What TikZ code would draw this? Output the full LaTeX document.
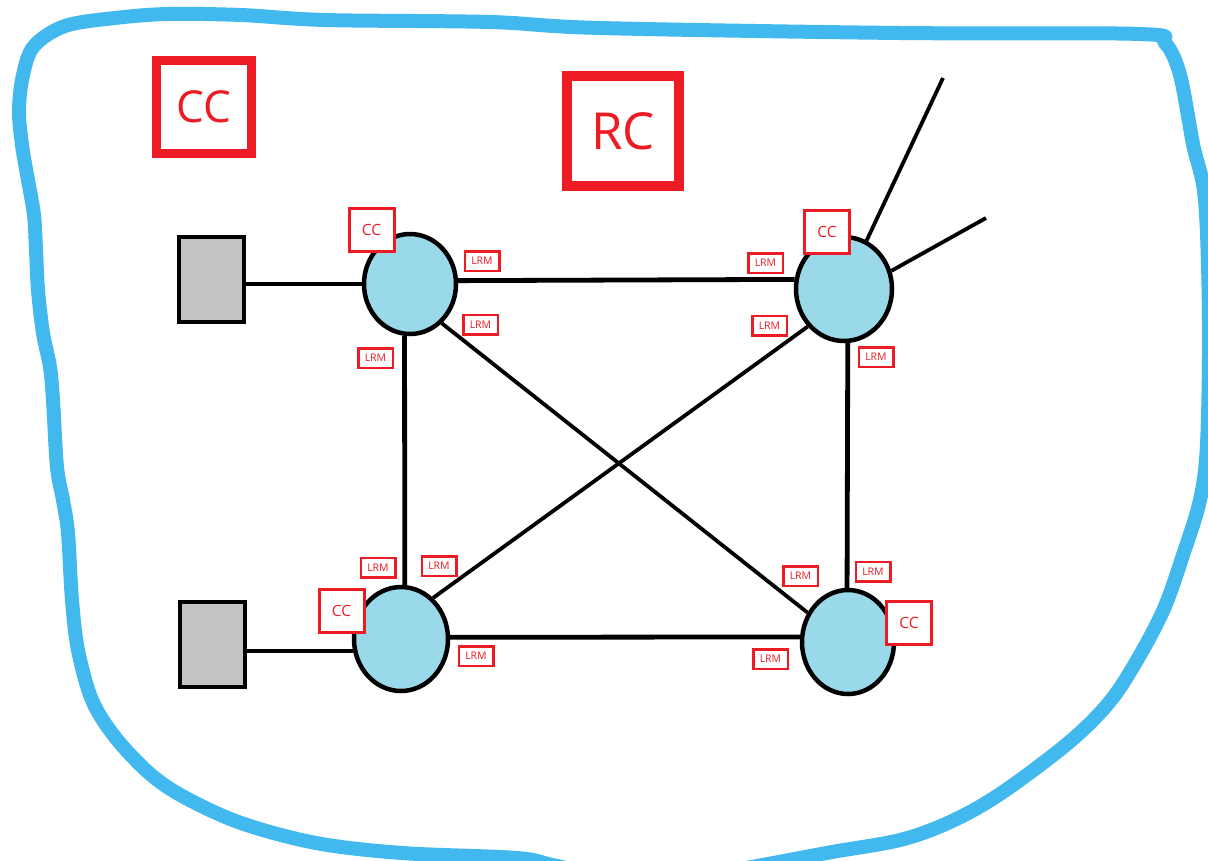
\documentclass[tikz,border=0pt]{standalone}
\usepackage{fontspec}
\setmainfont{Open Sans}
\usetikzlibrary{shapes.geometric}
\definecolor{pred}{RGB}{237,28,36}
\definecolor{pblue}{RGB}{66,185,238}
\definecolor{pcyan}{RGB}{153,217,234}
\definecolor{pgray}{RGB}{195,195,195}
\begin{document}
\begin{tikzpicture}[x=1pt,y=-1pt,
 router/.style={ellipse,draw=black,line width=4.5pt,fill=pcyan,inner sep=0pt},
 host/.style={rectangle,draw=black,line width=4pt,fill=pgray,minimum width=65pt,minimum height=85pt,inner sep=0pt},
 link/.style={line width=4.8pt},
 thinlink/.style={line width=3.8pt},
 lrm/.style={draw=pred,line width=2.5pt,fill=white,text=pred,font=\fontsize{10.5}{11}\selectfont,minimum width=34.5pt,minimum height=19.5pt,inner sep=0pt},
 ccs/.style={draw=pred,line width=3pt,fill=white,text=pred,font=\fontsize{15.5}{16}\selectfont,minimum width=45pt,minimum height=43pt,inner sep=0pt},
 bigbox/.style={draw=pred,fill=white,text=pred,inner sep=0pt},
]
\useasboundingbox (0,0) rectangle (1208,860);
\clip (0,0) rectangle (1208,860);
\fill[white] (0,0) rectangle (1208,860);

% outer domain border
\draw[pblue,line width=14pt,line join=round] plot[smooth cycle,tension=0.55] coordinates {(34,46) (65,26) (115,18) (168,14) (241,15) (325,20) (490,22) (600,28) (900,33) (1140,34) (1165,43) (1180,75) (1193,144) (1205,200) (1209,322) (1207,444) (1200,500) (1183,555) (1163,611) (1133,667) (1107,705) (1067,744) (1000,794) (950,822) (900,840) (832,852) (746,868) (650,884) (557,866) (517,858) (402,853) (316,843) (241,823) (184,797) (149,773) (115,737) (92,700) (78,650) (72,600) (68,533) (63,500) (57,467) (53,400) (50,367) (43,333) (38,290) (36,250) (34,215) (28,180) (22,145) (19,110) (23,75)};

% big labels
\node[bigbox,line width=9pt,minimum width=95pt,minimum height=93pt,font=\fontsize{44}{46}\selectfont] (cc0) at (204,107) {CC};
\node[bigbox,line width=10pt,minimum width=112pt,minimum height=110pt,font=\fontsize{51}{53}\selectfont] (rc) at (623,131) {RC};

% routers
\node[router,minimum width=92pt,minimum height=100pt] (tl) at (410,284) {};
\node[router,minimum width=96pt,minimum height=104pt] (tr) at (844,289) {};
\node[router,minimum width=94pt,minimum height=104pt] (bl) at (401,639) {};
\node[router,minimum width=92pt,minimum height=104pt] (br) at (848,642) {};

% hosts
\node[host] (g1) at (211.5,279.5) {};
\node[host] (g2) at (212,644.5) {};

% free ends of external links
\coordinate (e1) at (943,78);
\coordinate (e2) at (986,218);

% links
\draw[link] (g1.east |- tl.west) -- (tl.west);
\draw[link] (g2.east |- bl.194) -- (bl.194);
\draw[link] (tl.4.8) -- (tr.169.7);
\draw[link] (tl.-96.6) -- (bl.86.8);
\draw[link] (tr.-86.8) -- (br.91);
\draw[link] (bl.2.3) -- (br.174);
\draw[thinlink] (tl.-51.3) -- (br.144.5);
\draw[thinlink] (bl.52) -- (tr.226.5);
\draw[thinlink] (tr.65.7) -- (e1);
\draw[thinlink] (tr.21.6) -- (e2);

% CC labels on routers
\node[ccs] (cctl) at (371.5,230) {CC};
\node[ccs] (cctr) at (827,232) {CC};
\node[ccs] (ccbl) at (341.5,610.5) {CC};
\node[ccs] (ccbr) at (909,622.5) {CC};

% LRM labels
\node[lrm] (l1) at (482,261) {LRM};
\node[lrm] (l2) at (480.5,324.5) {LRM};
\node[lrm] (l3) at (375.5,358) {LRM};
\node[lrm] (l4) at (765.5,263) {LRM};
\node[lrm] (l5) at (769.5,325.5) {LRM};
\node[lrm] (l6) at (876,357) {LRM};
\node[lrm] (l7) at (378,567.5) {LRM};
\node[lrm] (l8) at (439,566) {LRM};
\node[lrm] (l9) at (476,656) {LRM};
\node[lrm] (l10) at (800.5,576) {LRM};
\node[lrm] (l11) at (873,571.5) {LRM};
\node[lrm] (l12) at (770.5,659) {LRM};
\end{tikzpicture}
\end{document}
